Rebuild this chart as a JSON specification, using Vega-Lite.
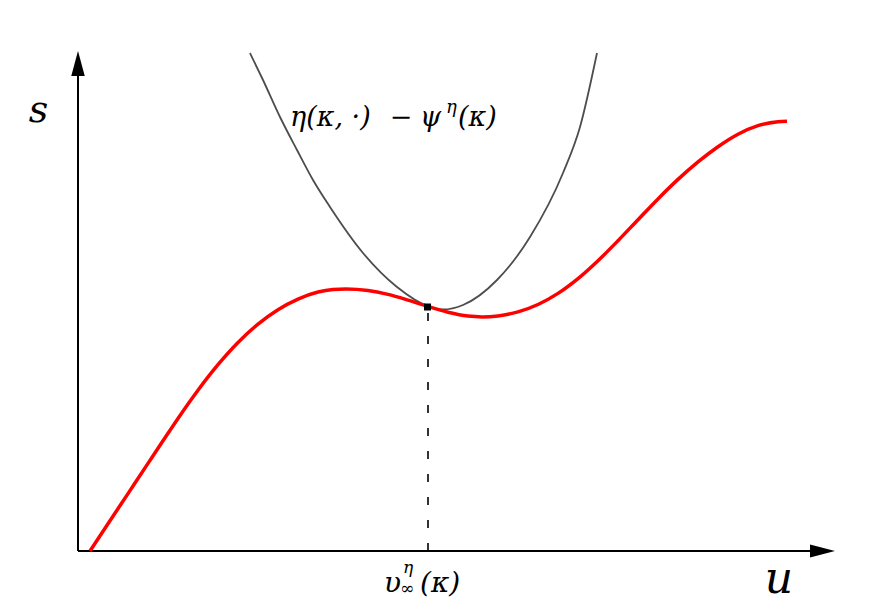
{
  "$schema": "https://vega.github.io/schema/vega-lite/v6.json",
  "width": 872,
  "height": 610,
  "padding": 0,
  "autosize": {"type": "fit", "contains": "padding"},
  "background": "white",
  "view": {"stroke": null},
  "datasets": {
    "red": [
      {"u": 12, "s": 0}, {"u": 30, "s": 27.2}, {"u": 50, "s": 57.4}, {"u": 70, "s": 87.6},
      {"u": 85, "s": 110.2}, {"u": 100, "s": 132.6}, {"u": 120, "s": 160.8}, {"u": 140, "s": 186.3},
      {"u": 160, "s": 208.5}, {"u": 180, "s": 226.9}, {"u": 200, "s": 241.3}, {"u": 220, "s": 251.9},
      {"u": 240, "s": 259}, {"u": 255, "s": 261.5}, {"u": 268, "s": 262}, {"u": 290, "s": 260.5},
      {"u": 310, "s": 256.6}, {"u": 330, "s": 250.9}, {"u": 350, "s": 244.5}, {"u": 370, "s": 238.7},
      {"u": 390, "s": 234.9}, {"u": 404, "s": 234.1}, {"u": 420, "s": 235.1}, {"u": 440, "s": 239.1},
      {"u": 460, "s": 246.5}, {"u": 480, "s": 257.6}, {"u": 500, "s": 272.4}, {"u": 520, "s": 290.3},
      {"u": 540, "s": 310.3}, {"u": 560, "s": 331.3}, {"u": 580, "s": 352.1}, {"u": 600, "s": 371.6},
      {"u": 620, "s": 389.1}, {"u": 640, "s": 404.3}, {"u": 660, "s": 416.8}, {"u": 680, "s": 425.3},
      {"u": 700, "s": 429.3}, {"u": 709, "s": 429.8}
    ],
    "gray": [
      {"u": 172, "s": 498}, {"u": 185, "s": 471}, {"u": 202, "s": 434}, {"u": 219, "s": 401},
      {"u": 235, "s": 371}, {"u": 252, "s": 344}, {"u": 285, "s": 298}, {"u": 319, "s": 264},
      {"u": 352, "s": 244}, {"u": 365, "s": 241.5}, {"u": 385, "s": 246}, {"u": 419, "s": 271},
      {"u": 452, "s": 314}, {"u": 485, "s": 378}, {"u": 502, "s": 424}, {"u": 519, "s": 498}
    ]
  },
  "encoding": {
    "x": {"field": "u", "type": "quantitative", "scale": {"domain": [-78, 794], "nice": false, "zero": false}, "axis": null},
    "y": {"field": "s", "type": "quantitative", "scale": {"domain": [-59, 551], "nice": false, "zero": false}, "axis": null}
  },
  "layer": [
    {
      "data": {"values": [{"u": 0, "u2": 735, "s": 0}]},
      "mark": {"type": "rule", "color": "black", "strokeWidth": 2},
      "encoding": {"x2": {"field": "u2"}}
    },
    {
      "data": {"values": [{"u": 0, "s": 0, "s2": 476}]},
      "mark": {"type": "rule", "color": "black", "strokeWidth": 2},
      "encoding": {"y2": {"field": "s2"}}
    },
    {
      "data": {"values": [{"u": 744.5, "s": 0}]},
      "mark": {"type": "point", "shape": "M1,0L-1,-0.52L-1,0.52Z", "size": 625, "filled": true, "color": "black", "opacity": 1, "strokeWidth": 0}
    },
    {
      "data": {"values": [{"u": 0, "s": 487.5}]},
      "mark": {"type": "point", "shape": "M0,-1L0.54,1L-0.54,1Z", "size": 625, "filled": true, "color": "black", "opacity": 1, "strokeWidth": 0}
    },
    {
      "data": {"name": "gray"},
      "mark": {"type": "line", "color": "#4d4d4d", "strokeWidth": 1.8, "interpolate": "monotone"}
    },
    {
      "data": {"name": "red"},
      "mark": {"type": "line", "color": "#ff0000", "strokeWidth": 3.5, "interpolate": "monotone"}
    },
    {
      "data": {"values": [{"u": 350, "s": 0, "s2": 244}]},
      "mark": {"type": "rule", "color": "black", "strokeWidth": 1.6, "strokeDash": [8, 15]},
      "encoding": {"y2": {"field": "s2"}}
    },
    {
      "data": {"values": [{"u": 349.5, "s": 244}]},
      "mark": {"type": "point", "shape": "square", "size": 49, "filled": true, "color": "black", "opacity": 1}
    },
    {
      "data": {"values": [{"u": -39.5, "s": 429, "t": "s"}]},
      "mark": {"type": "text", "font": "DejaVu Serif", "fontStyle": "italic", "fontSize": 38, "align": "center", "baseline": "alphabetic", "color": "black"},
      "encoding": {"text": {"field": "t"}}
    },
    {
      "data": {"values": [{"u": 701, "s": -42, "t": "u"}]},
      "mark": {"type": "text", "font": "DejaVu Serif", "fontStyle": "italic", "fontSize": 44, "align": "center", "baseline": "alphabetic", "color": "black"},
      "encoding": {"text": {"field": "t"}}
    },
    {
      "data": {"values": [{"u": 212, "s": 425, "t": "η(κ, ·)"}, {"u": 342, "s": 425, "t": "ψ"}, {"u": 380, "s": 425, "t": "(κ)"}]},
      "mark": {"type": "text", "font": "DejaVu Serif", "fontStyle": "italic", "fontSize": 27, "align": "left", "baseline": "alphabetic", "color": "black"},
      "encoding": {"text": {"field": "t"}}
    },
    {
      "data": {"values": [{"u": 323, "s": 425, "t": "−"}]},
      "mark": {"type": "text", "font": "DejaVu Serif", "fontSize": 27, "align": "center", "baseline": "alphabetic", "color": "black"},
      "encoding": {"text": {"field": "t"}}
    },
    {
      "data": {"values": [{"u": 368, "s": 438, "t": "η"}]},
      "mark": {"type": "text", "font": "DejaVu Serif", "fontStyle": "italic", "fontSize": 18, "align": "left", "baseline": "alphabetic", "color": "black"},
      "encoding": {"text": {"field": "t"}}
    },
    {
      "data": {"values": [{"u": 306, "s": -41, "t": "υ"}, {"u": 342, "s": -41, "t": "(κ)"}]},
      "mark": {"type": "text", "font": "DejaVu Serif", "fontStyle": "italic", "fontSize": 28, "align": "left", "baseline": "alphabetic", "color": "black"},
      "encoding": {"text": {"field": "t"}}
    },
    {
      "data": {"values": [{"u": 325, "s": -22, "t": "η"}, {"u": 322, "s": -43, "t": "∞"}]},
      "mark": {"type": "text", "font": "DejaVu Serif", "fontStyle": "italic", "fontSize": 17, "align": "left", "baseline": "alphabetic", "color": "black"},
      "encoding": {"text": {"field": "t"}}
    }
  ]
}
